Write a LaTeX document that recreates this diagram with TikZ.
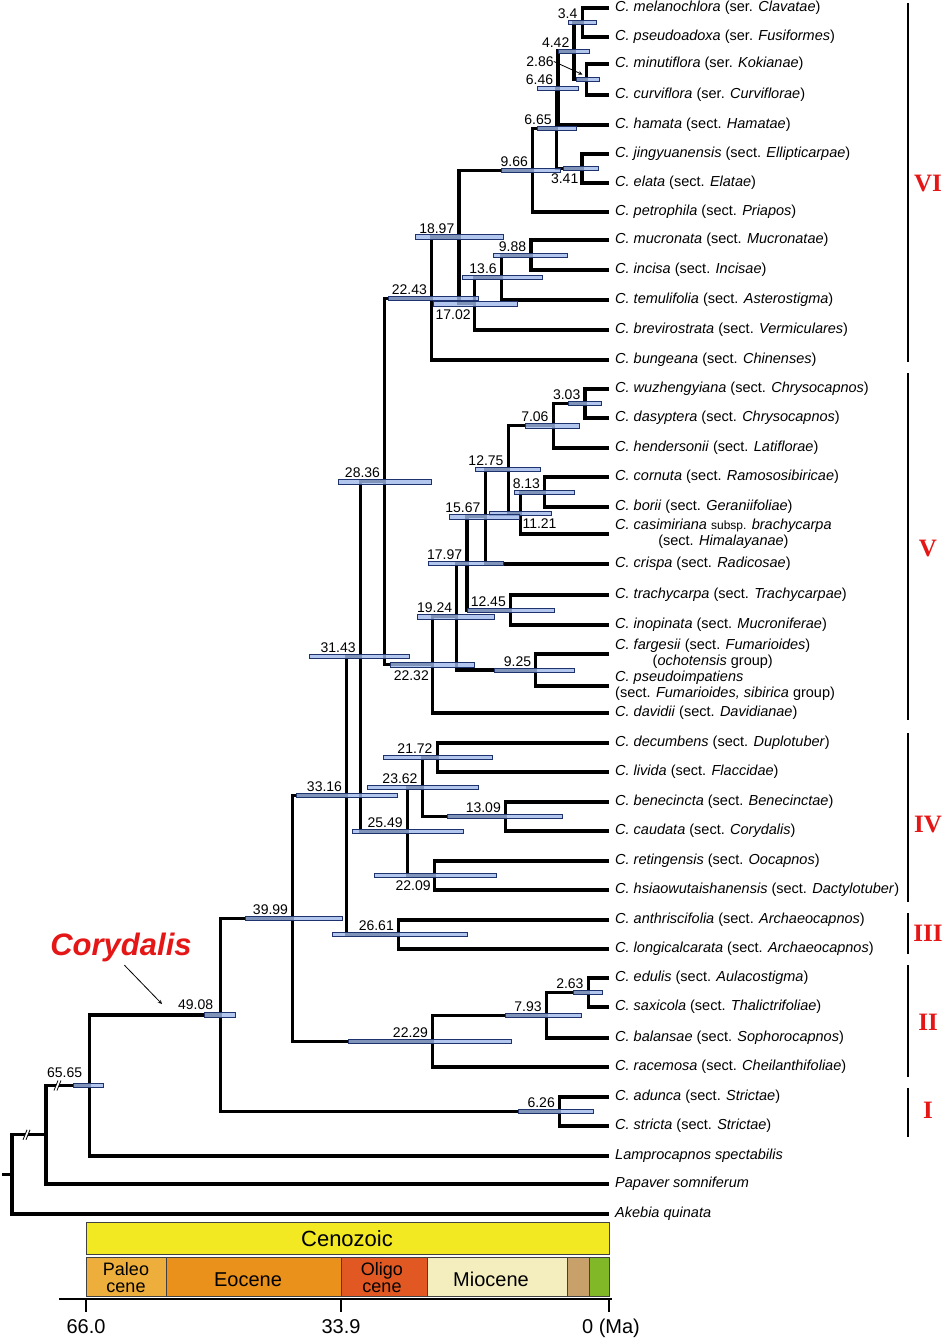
\documentclass[tikz,border=0pt]{standalone}
\usepackage{fontspec}
\setmainfont{Liberation Sans}
\newfontfamily\numeralfont{Liberation Serif}
\usepackage{tikz}
\usetikzlibrary{calc}
\usetikzlibrary{arrows}
\definecolor{barfill}{RGB}{160,184,232}
\definecolor{barline}{RGB}{30,50,110}
\definecolor{cladered}{RGB}{228,22,22}
\definecolor{cenozoic}{RGB}{242,233,35}
\definecolor{paleo}{RGB}{238,174,59}
\definecolor{eocene}{RGB}{233,145,26}
\definecolor{oligo}{RGB}{226,88,34}
\definecolor{mio}{RGB}{244,238,190}
\definecolor{plio}{RGB}{200,160,105}
\definecolor{pleisto}{RGB}{128,184,40}
\newcommand{\leaffont}{\fontsize{14.5}{16}\selectfont}
\newcommand{\agefont}{\fontsize{14}{14}\selectfont}
\newcommand{\subspfont}{\fontsize{12}{12}\selectfont}
\newcommand{\epochfont}{\fontsize{20}{20}\selectfont}
\tikzset{branch/.style={line width=3.2pt, line join=miter},
  hpd/.style={draw=barline, fill=barfill, line width=0.6pt, fill opacity=0.8},
  leaf/.style={anchor=west, inner xsep=6pt, inner ysep=0pt, text height=10pt, text depth=3pt, font=\leaffont},
  leaftwo/.style={anchor=west, inner xsep=6pt, inner ysep=0pt, font=\leaffont},
  age/.style={font=\agefont, anchor=south east, inner sep=0pt, xshift=-4.5pt, yshift=3.5pt},
  agebelow/.style={font=\agefont, anchor=north east, inner sep=0pt, xshift=-3.5pt, yshift=-5.5pt},
  ageright/.style={font=\agefont, anchor=north west, inner sep=0pt, xshift=2pt, yshift=-5.5pt},
  pointer/.style={->, >=stealth, line width=0.8pt},
  bracket/.style={line width=2pt},
  numeral/.style={font=\numeralfont\bfseries\fontsize{25}{25}\selectfont, text=cladered},
  epochbox/.style={draw=black!75, line width=0.8pt},
  epochlabel/.style={font=\epochfont, inner sep=0pt, anchor=base},
  epochsmall/.style={font=\fontsize{18}{18}\selectfont, inner sep=0pt, anchor=base},
  ticklabel/.style={font=\fontsize{20}{20}\selectfont, anchor=base, inner sep=0pt}}
\newcommand{\hpd}[3]{\draw[hpd] let \p1=(#1) in (#2pt,\y1-2.2pt) rectangle (#3pt,\y1+2.2pt);}
\newcommand{\age}[3][age]{\node[#1] (a#2) at (n#2) {#3};}
\newcommand{\stembreak}[1]{%
  \fill[white] ($(#1)+(-4,5)$) -- ($(#1)+(0,-5)$) -- ($(#1)+(3,-5)$) -- ($(#1)+(-1,5)$) -- cycle;
  \draw[line width=0.8pt] ($(#1)+(-4,5)$) -- ($(#1)+(0,-5)$);
  \draw[line width=0.8pt] ($(#1)+(-1,5)$) -- ($(#1)+(3,-5)$);}

\begin{document}
\begin{tikzpicture}[x=1pt,y=-1pt]
\useasboundingbox (0,0) rectangle (945,1339);
%% tips
\node[leaf] (melano) at (609,8) {\textit{C. melanochlora} (ser. \textit{Clavatae})};
\node[leaf] (pseudoad) at (609,37) {\textit{C. pseudoadoxa} (ser. \textit{Fusiformes})};
\node[leaf] (minuti) at (609,64) {\textit{C. minutiflora} (ser. \textit{Kokianae})};
\node[leaf] (curvi) at (609,95) {\textit{C. curviflora} (ser. \textit{Curviflorae})};
\node[leaf] (hamata) at (609,125) {\textit{C. hamata} (sect. \textit{Hamatae})};
\node[leaf] (jingyuan) at (609,154) {\textit{C. jingyuanensis} (sect. \textit{Ellipticarpae})};
\node[leaf] (elata) at (609,183) {\textit{C. elata} (sect. \textit{Elatae})};
\node[leaf] (petro) at (609,212) {\textit{C. petrophila} (sect. \textit{Priapos})};
\node[leaf] (mucro) at (609,240) {\textit{C. mucronata} (sect. \textit{Mucronatae})};
\node[leaf] (incisa) at (609,270) {\textit{C. incisa} (sect. \textit{Incisae})};
\node[leaf] (temuli) at (609,300) {\textit{C. temulifolia} (sect. \textit{Asterostigma})};
\node[leaf] (brevi) at (609,330) {\textit{C. brevirostrata} (sect. \textit{Vermiculares})};
\node[leaf] (bungeana) at (609,360) {\textit{C. bungeana} (sect. \textit{Chinenses})};
\node[leaf] (wuzheng) at (609,389) {\textit{C. wuzhengyiana} (sect. \textit{Chrysocapnos})};
\node[leaf] (dasypt) at (609,418) {\textit{C. dasyptera} (sect. \textit{Chrysocapnos})};
\node[leaf] (henders) at (609,448) {\textit{C. hendersonii} (sect. \textit{Latiflorae})};
\node[leaf] (cornuta) at (609,477) {\textit{C. cornuta} (sect. \textit{Ramososibiricae})};
\node[leaf] (borii) at (609,507) {\textit{C. borii} (sect. \textit{Geraniifoliae})};
\node[leaftwo, align=center] (casimir) at (609,534) {\textit{C. casimiriana} {\subspfont subsp.} \textit{brachycarpa}\\(sect. \textit{Himalayanae})};
\node[leaf] (crispa) at (609,564) {\textit{C. crispa} (sect. \textit{Radicosae})};
\node[leaf] (trachy) at (609,595) {\textit{C. trachycarpa} (sect. \textit{Trachycarpae})};
\node[leaf] (inopin) at (609,625) {\textit{C. inopinata} (sect. \textit{Mucroniferae})};
\node[leaftwo, align=center] (farges) at (609,654) {\textit{C. fargesii} (sect. \textit{Fumarioides})\\(\textit{ochotensis} group)};
\node[leaftwo, align=left] (pseudoim) at (609,686) {\textit{C. pseudoimpatiens}\\(sect. \textit{Fumarioides, sibirica} group)};
\node[leaf] (davidii) at (609,713) {\textit{C. davidii} (sect. \textit{Davidianae})};
\node[leaf] (decumb) at (609,743) {\textit{C. decumbens} (sect. \textit{Duplotuber})};
\node[leaf] (livida) at (609,772) {\textit{C. livida} (sect. \textit{Flaccidae})};
\node[leaf] (benec) at (609,802) {\textit{C. benecincta} (sect. \textit{Benecinctae})};
\node[leaf] (caudata) at (609,831) {\textit{C. caudata} (sect. \textit{Corydalis})};
\node[leaf] (reting) at (609,861) {\textit{C. retingensis} (sect. \textit{Oocapnos})};
\node[leaf] (hsiao) at (609,890) {\textit{C. hsiaowutaishanensis} (sect. \textit{Dactylotuber})};
\node[leaf] (anthris) at (609,920) {\textit{C. anthriscifolia} (sect. \textit{Archaeocapnos})};
\node[leaf] (longic) at (609,949) {\textit{C. longicalcarata} (sect. \textit{Archaeocapnos})};
\node[leaf] (edulis) at (609,978) {\textit{C. edulis} (sect. \textit{Aulacostigma})};
\node[leaf] (saxic) at (609,1007) {\textit{C. saxicola} (sect. \textit{Thalictrifoliae})};
\node[leaf] (balans) at (609,1038) {\textit{C. balansae} (sect. \textit{Sophorocapnos})};
\node[leaf] (racem) at (609,1067) {\textit{C. racemosa} (sect. \textit{Cheilanthifoliae})};
\node[leaf] (adunca) at (609,1097) {\textit{C. adunca} (sect. \textit{Strictae})};
\node[leaf] (stricta) at (609,1126) {\textit{C. stricta} (sect. \textit{Strictae})};
\node[leaf] (lampro) at (609,1156) {\textit{Lamprocapnos spectabilis}};
\node[leaf] (papaver) at (609,1184) {\textit{Papaver somniferum}};
\node[leaf] (akebia) at (609,1214) {\textit{Akebia quinata}};
%% internal nodes, x = 609 - 7.909*age
\coordinate (n34) at (582.1,22.5);
\coordinate (n286) at (586.4,79.5);
\coordinate (n442) at (574.0,51);
\coordinate (n646) at (557.9,88);
\coordinate (n341) at (582.0,168.5);
\coordinate (n665) at (556.4,128.2);
\coordinate (n966) at (532.6,170.1);
\coordinate (n988) at (530.9,255);
\coordinate (n136) at (501.4,277.5);
\coordinate (n1702) at (474.4,303.8);
\coordinate (n1897) at (459.0,236.9);
\coordinate (n2243) at (431.6,298.5);
\coordinate (n303) at (585.0,403.5);
\coordinate (n706) at (553.2,425.8);
\coordinate (n813) at (544.7,492);
\coordinate (n1121) at (520.3,513);
\coordinate (n1275) at (508.2,469.4);
\coordinate (n1567) at (485.1,516.7);
\coordinate (n1245) at (510.5,610);
\coordinate (n1797) at (466.9,563.4);
\coordinate (n925) at (535.8,670);
\coordinate (n1924) at (456.8,616.7);
\coordinate (n2232) at (432.5,664.8);
\coordinate (n2836) at (384.7,481.7);
\coordinate (n2172) at (437.2,757.5);
\coordinate (n1309) at (505.5,816.5);
\coordinate (n2362) at (422.2,787);
\coordinate (n2209) at (434.3,875.5);
\coordinate (n2549) at (407.4,831.2);
\coordinate (n3143) at (360.4,656.5);
\coordinate (n2661) at (398.5,934.5);
\coordinate (n3316) at (346.7,795.5);
\coordinate (n263) at (588.2,992.5);
\coordinate (n793) at (546.3,1015.2);
\coordinate (n2229) at (432.7,1041.1);
\coordinate (n3999) at (292.7,918.3);
\coordinate (n626) at (559.5,1111.5);
\coordinate (n4908) at (220.8,1014.9);
\coordinate (n6565) at (89.8,1085.5);
\coordinate (nout) at (46,1134.8);
\coordinate (nroot) at (12,1174.4);
\coordinate (stub) at (2,1174.4);
%% branches
\draw[branch] (melano.west) -| (n34) |- (pseudoad.west);
\draw[branch] (minuti.west) -| (n286) |- (curvi.west);
\draw[branch] (n34) -| (n442) |- (n286);
\draw[branch] (n442) -| (n646) |- (hamata.west);
\draw[branch] (jingyuan.west) -| (n341) |- (elata.west);
\draw[branch] (n646) -| (n665) |- (n341);
\draw[branch] (n665) -| (n966) |- (petro.west);
\draw[branch] (mucro.west) -| (n988) |- (incisa.west);
\draw[branch] (n988) -| (n136) |- (temuli.west);
\draw[branch] (n136) -| (n1702) |- (brevi.west);
\draw[branch] (n966) -| (n1897) |- (n1702);
\draw[branch] (n1897) -| (n2243) |- (bungeana.west);
\draw[branch] (wuzheng.west) -| (n303) |- (dasypt.west);
\draw[branch] (n303) -| (n706) |- (henders.west);
\draw[branch] (cornuta.west) -| (n813) |- (borii.west);
\draw[branch] (n813) -| (n1121) |- (casimir.west);
\draw[branch] (n706) -| (n1275) |- (n1121);
\draw[branch] (n1275) -| (n1567) |- (crispa.west);
\draw[branch] (trachy.west) -| (n1245) |- (inopin.west);
\draw[branch] (n1567) -| (n1797) |- (n1245);
\draw[branch] (farges.west) -| (n925) |- (pseudoim.west);
\draw[branch] (n1797) -| (n1924) |- (n925);
\draw[branch] (n1924) -| (n2232) |- (davidii.west);
\draw[branch] (n2243) -| (n2836) |- (n2232);
\draw[branch] (decumb.west) -| (n2172) |- (livida.west);
\draw[branch] (benec.west) -| (n1309) |- (caudata.west);
\draw[branch] (n2172) -| (n2362) |- (n1309);
\draw[branch] (reting.west) -| (n2209) |- (hsiao.west);
\draw[branch] (n2362) -| (n2549) |- (n2209);
\draw[branch] (n2836) -| (n3143) |- (n2549);
\draw[branch] (anthris.west) -| (n2661) |- (longic.west);
\draw[branch] (n3143) -| (n3316) |- (n2661);
\draw[branch] (edulis.west) -| (n263) |- (saxic.west);
\draw[branch] (n263) -| (n793) |- (balans.west);
\draw[branch] (n793) -| (n2229) |- (racem.west);
\draw[branch] (n3316) -| (n3999) |- (n2229);
\draw[branch] (adunca.west) -| (n626) |- (stricta.west);
\draw[branch] (n3999) -| (n4908) |- (n626);
\draw[branch] (n4908) -| (n6565) |- (lampro.west);
\draw[branch] (n6565) -| (nout) |- (papaver.west);
\draw[branch] (nout) -| (nroot) |- (akebia.west);
\draw[branch] (stub) -- (nroot);
\coordinate (brk1) at (58,1085.5);
\coordinate (brk2) at (27,1134.8);
\stembreak{brk1}
\stembreak{brk2}
%% 95% HPD bars
\hpd{n34}{568}{596}
\hpd{n286}{576}{599}
\hpd{n442}{558}{589}
\hpd{n646}{537}{578}
\hpd{n665}{537}{576}
\hpd{n341}{563}{598}
\hpd{n966}{501}{560}
\hpd{n988}{493}{567}
\hpd{n136}{462}{542}
\hpd{n1702}{433}{517}
\hpd{n1897}{415}{503}
\hpd{n2243}{388}{478}
\hpd{n303}{568}{601}
\hpd{n706}{525}{579}
\hpd{n813}{514}{574}
\hpd{n1121}{489}{551}
\hpd{n1275}{475}{540}
\hpd{n1567}{449}{519}
\hpd{n1245}{467}{554}
\hpd{n1797}{428}{503}
\hpd{n925}{494}{574}
\hpd{n1924}{417}{494}
\hpd{n2232}{390}{474}
\hpd{n2836}{338}{431}
\hpd{n2172}{383}{492}
\hpd{n1309}{447}{562}
\hpd{n2362}{367}{478}
\hpd{n2209}{374}{496}
\hpd{n2549}{352}{463}
\hpd{n3143}{309}{409}
\hpd{n2661}{332}{467}
\hpd{n3316}{296}{397}
\hpd{n263}{573}{602}
\hpd{n793}{505}{581}
\hpd{n2229}{348}{511}
\hpd{n3999}{245}{342}
\hpd{n626}{518}{593}
\hpd{n4908}{204}{235}
\hpd{n6565}{73}{103}
%% node ages
\age{34}{3.4}
\age{442}{4.42}
\age{646}{6.46}
\age{665}{6.65}
\age[agebelow]{341}{3.41}
\age{966}{9.66}
\age{988}{9.88}
\age{136}{13.6}
\age[agebelow]{1702}{17.02}
\age{1897}{18.97}
\age{2243}{22.43}
\age{303}{3.03}
\age{706}{7.06}
\age{813}{8.13}
\age[ageright]{1121}{11.21}
\age{1275}{12.75}
\age{1567}{15.67}
\age{1245}{12.45}
\age{1797}{17.97}
\age{925}{9.25}
\age{1924}{19.24}
\age[agebelow]{2232}{22.32}
\age{2836}{28.36}
\age{2172}{21.72}
\age{1309}{13.09}
\age{2362}{23.62}
\age[agebelow]{2209}{22.09}
\age{2549}{25.49}
\age{3143}{31.43}
\age{2661}{26.61}
\age{3316}{33.16}
\age{263}{2.63}
\age{793}{7.93}
\age{2229}{22.29}
\age{3999}{39.99}
\age{626}{6.26}
\age[age,xshift=-3pt,yshift=2pt]{4908}{49.08}
\age[age,xshift=-3pt,yshift=4pt]{6565}{65.65}
\node[font=\agefont, inner sep=0pt] (a286) at (540,61.5) {2.86};
\draw[pointer] (a286.east) -- ([xshift=-4pt,yshift=5pt]n286);
%% genus label
\node[font=\fontsize{31}{31}\selectfont\bfseries\itshape, text=cladered, inner sep=0pt] (cory) at (121,947) {Corydalis};
\coordinate (coryTip) at (162,1004);
\draw[pointer, shorten <=5pt] (cory.south) -- (coryTip);
%% clades
\draw[bracket] (908,3) -- (908,362);
\draw[bracket] (908,373) -- (908,720);
\draw[bracket] (908,733) -- (908,902);
\draw[bracket] (908,913) -- (908,954);
\draw[bracket] (908,965) -- (908,1077);
\draw[bracket] (908,1088) -- (908,1137);
\node[numeral] (cVI) at (928,183) {VI};
\node[numeral] (cV) at (928,548) {V};
\node[numeral] (cIV) at (928,824) {IV};
\node[numeral] (cIII) at (928,933) {III};
\node[numeral] (cII) at (928,1022) {II};
\node[numeral] (cI) at (928,1110) {I};
%% time scale
\draw[epochbox, fill=cenozoic] (86,1222) rectangle (609,1254);
\node[font=\fontsize{22}{22}\selectfont, inner sep=0pt] (ceno) at (347,1239) {Cenozoic};
\foreach \a/\b/\c in {86/166/paleo, 166/341/eocene, 341/427/oligo, 427/567/mio, 567/589/plio, 589/609/pleisto}
  \draw[epochbox, fill=\c] (\a,1257) rectangle (\b,1296);
\node[epochsmall] (tpal) at (126,1275) {Paleo};
\node[epochsmall] (tpal2) at (126,1292) {cene};
\node[epochlabel] (teoc) at (248,1286) {Eocene};
\node[epochsmall] (tolig) at (382,1275) {Oligo};
\node[epochsmall] (tolig2) at (382,1292) {cene};
\node[epochlabel] (tmio) at (491,1286) {Miocene};
\draw[line width=1.6pt] (59,1299) -- (612,1299);
\foreach \x in {86,341,609}
  \draw[line width=1.6pt] (\x,1299) -- (\x,1312);
\node[ticklabel] (t66) at (86,1333) {66.0};
\node[ticklabel] (t339) at (341,1333) {33.9};
\node[ticklabel] (t0) at (611,1333) {0 (Ma)};
\end{tikzpicture}
\end{document}
